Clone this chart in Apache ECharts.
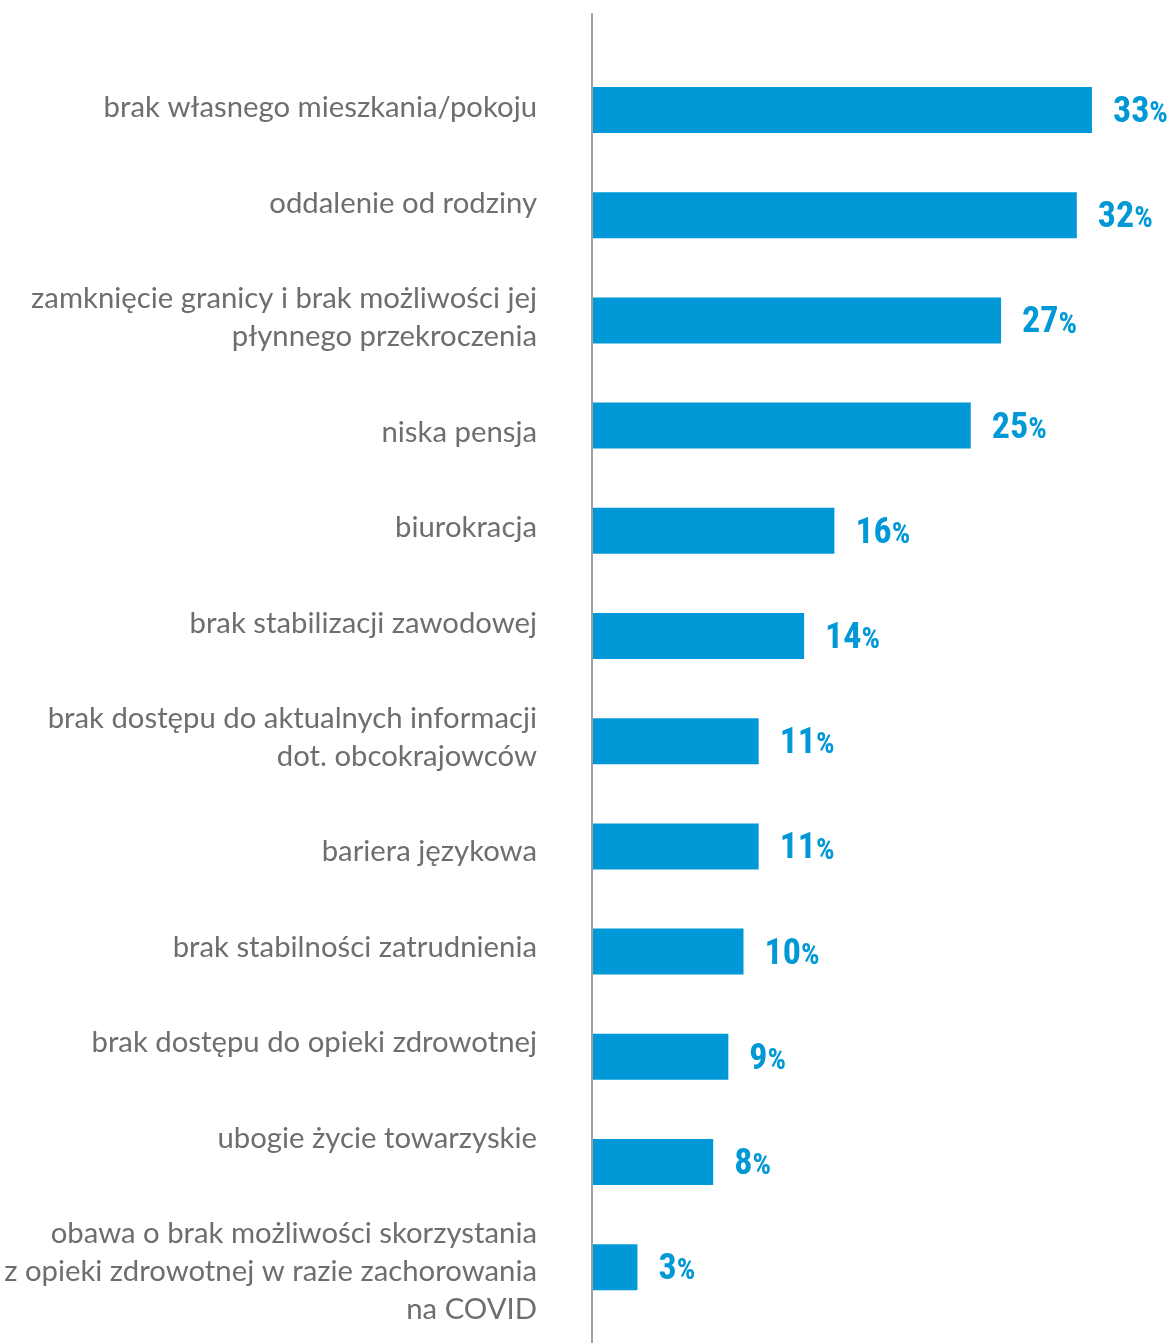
<!DOCTYPE html>
<html>
<head>
<meta charset="utf-8">
<script src="https://cdn.jsdelivr.net/npm/echarts@6/dist/echarts.min.js"></script>
<style>
html,body{margin:0;padding:0;background:#fff;}
#c{width:1171px;height:1343px;}
</style>
</head>
<body>
<div id="c"></div>
<script>
const categories = [
  "brak własnego mieszkania/pokoju",
  "oddalenie od rodziny",
  "zamknięcie granicy i brak możliwości jej\npłynnego przekroczenia",
  "niska pensja",
  "biurokracja",
  "brak stabilizacji zawodowej",
  "brak dostępu do aktualnych informacji\ndot. obcokrajowców",
  "bariera językowa",
  "brak stabilności zatrudnienia",
  "brak dostępu do opieki zdrowotnej",
  "ubogie życie towarzyskie",
  "obawa o brak możliwości skorzystania\nz opieki zdrowotnej w razie zachorowania\nna COVID"
];
const values = [33, 32, 27, 25, 16, 14, 11, 11, 10, 9, 8, 3];

const LABEL_FONT = 29.3, LINE_H = 38, PARA_PITCH = 95.5, FIRST_BASE = 116, BASE_TO_CENTER = 8;
const BLUE = '#0098d6';
const NUM_FONT = "'Roboto Condensed', 'DejaVu Sans Condensed', Roboto";

const chart = echarts.init(document.getElementById('c'));

function buildOption(spacers) {
  const rich = { t: { fontFamily: 'Lato', fontSize: LABEL_FONT, lineHeight: LINE_H, color: '#6d6e70', align: 'right' } };
  spacers.forEach((s, i) => { rich['sp' + i] = { fontSize: 1, lineHeight: Math.max(1, Math.abs(s) * 2), align: 'right' }; });
  return {
    animation: false,
    grid: { left: 592, right: 33.6, top: 57.4, bottom: 23.2, containLabel: false },
    xAxis: { type: 'value', min: 0, max: 36, show: false },
    yAxis: {
      type: 'category',
      data: categories,
      inverse: true,
      axisLine: { show: false },
      axisTick: { show: false },
      splitLine: { show: false },
      axisLabel: {
        margin: 55,
        align: 'right',
        formatter: (v, i) => {
          const body = v.split('\n').map(l => '{t|' + l + '}').join('\n');
          const s = spacers[i] || 0;
          if (Math.abs(s) < 0.5) return body;
          const sp = '{sp' + i + '| }';
          return s < 0 ? body + '\n' + sp : sp + '\n' + body;
        },
        rich: rich
      }
    },
    series: [{
      type: 'bar',
      data: values,
      barWidth: 46,
      itemStyle: { color: BLUE },
      label: {
        show: true,
        position: 'right',
        distance: 21,
        offset: [0, 3],
        formatter: p => '{n|' + p.value + '}{p|%}',
        rich: {
          n: { fontFamily: NUM_FONT, fontWeight: 'bold', fontSize: 36, color: BLUE },
          p: { fontFamily: NUM_FONT, fontWeight: 'bold', fontSize: 29, color: BLUE, padding: [4, 0, 0, 0] }
        }
      }
    }]
  };
}

chart.setOption(buildOption(categories.map(() => 0)));

// text column layout: paragraphs stacked with a fixed pitch, lines with fixed line height
let base = FIRST_BASE;
const spacers = categories.map((c, i) => {
  const n = c.split('\n').length;
  const first = base, last = base + (n - 1) * (LINE_H - 0.3);
  base = last + PARA_PITCH;
  const wantCenter = (first + last) / 2 - BASE_TO_CENTER;
  const barCenter = chart.convertToPixel({ yAxisIndex: 0 }, i);
  return wantCenter - barCenter;
});
chart.setOption(buildOption(spacers));

const x0 = chart.convertToPixel({ xAxisIndex: 0 }, 0);
chart.setOption({
  graphic: [{
    type: 'line',
    shape: { x1: x0, y1: 13, x2: x0, y2: 1343 },
    style: { stroke: '#a0a0a0', lineWidth: 2 },
    z: 10
  }]
});
</script>
</body>
</html>
